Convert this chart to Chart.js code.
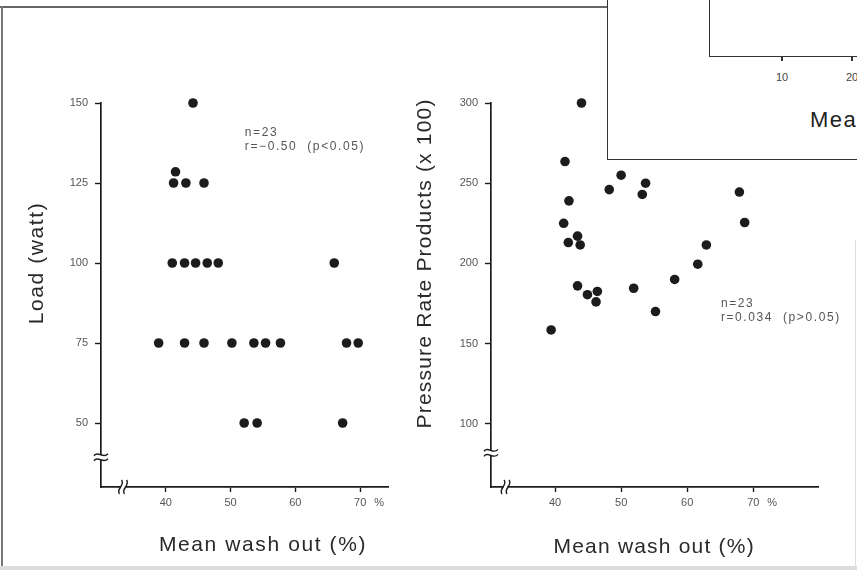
<!DOCTYPE html>
<html>
<head>
<meta charset="utf-8">
<script src="https://cdn.jsdelivr.net/npm/chart.js@4.4.1/dist/chart.umd.min.js"></script>
<style>
    html, body { margin: 0; padding: 0; }
    body { width: 857px; height: 570px; background: #fff; position: relative; overflow: hidden; font-family: "Liberation Sans", Arial, sans-serif; }
    .abs { position: absolute; }
    #left-wrap { left: 0; top: 0; width: 410px; height: 570px; }
    #right-wrap { left: 400px; top: 0; width: 457px; height: 570px; }
    .line { position: absolute; background: #444; }
    .inset-label { position: absolute; font-size: 11px; color: #444; transform: translateX(-50%); }
</style>
</head>
<body>
<!-- scan frame -->
<div class="line" style="left:0;top:6px;width:608px;height:2px;background:#666"></div>
<div class="line" style="left:1px;top:6px;width:2px;height:564px;background:#777"></div>
<div class="line" style="left:0;top:566px;width:857px;height:4px;background:#ddd"></div>
<div class="line" style="left:855px;top:240px;width:1px;height:330px;background:#ddd"></div>

<div id="left-wrap" class="abs"><canvas id="load-chart"></canvas></div>
<div id="right-wrap" class="abs"><canvas id="prp-chart"></canvas></div>

<!-- overlapping corner of the next figure -->
<div class="abs" style="left:607px;top:-2px;width:252px;height:161px;background:#fff;border-left:1.5px solid #333;border-bottom:1.5px solid #333"></div>
<div class="abs" style="left:709px;top:-2px;width:150px;height:58px;border-left:1.5px solid #333;border-bottom:1.5px solid #333"></div>
<div class="line" style="left:781px;top:57px;width:1.5px;height:4px;background:#333"></div>
<div class="line" style="left:851px;top:57px;width:1.5px;height:4px;background:#333"></div>
<div class="inset-label" style="left:782px;top:71px">10</div>
<div class="inset-label" style="left:852px;top:71px">20</div>
<div class="abs" style="left:810px;top:107px;font-size:22px;color:#222;white-space:nowrap;letter-spacing:1.5px">Mean wash out (%)</div>

<script>
// Load (watt) vs mean wash out
const loadWashout = [44.2, 41.5, 41.2, 43.1, 45.9, 41.0, 42.9, 44.6, 46.4, 48.1, 66.0,
    38.9, 42.9, 45.9, 50.2, 53.6, 55.4, 57.7, 67.9, 69.7, 52.1, 54.1, 67.3];
const loadWatt = [150, 128.5, 125, 125, 125, 100, 100, 100, 100, 100, 100,
    75, 75, 75, 75, 75, 75, 75, 75, 75, 50, 50, 50];

// Pressure rate products (x100) vs mean wash out
const prpWashout = [44.0, 41.5, 42.1, 41.3, 42.0, 43.4, 43.8, 43.4, 44.9, 46.4, 46.2, 39.4,
    48.2, 50.0, 53.2, 53.7, 51.9, 55.2, 58.1, 61.6, 62.9, 67.9, 68.7];
const prpValues = [300, 263.5, 239, 225, 213, 217, 211.5, 186, 180.5, 182.5, 176, 158.5,
    246, 255, 243, 250, 184.5, 170, 190, 199.5, 211.5, 244.5, 225.5];

const xTicks = [40, 50, 60, 70];
const loadTicks = [50, 75, 100, 125, 150];
const prpTicks = [100, 150, 200, 250, 300];

const inkColor = '#1c1c1c';
const textGray = '#555';

// Titles, axis breaks, "%" unit and the n / r notes
const scanDecor = {
    id: 'scanDecor',
    afterDraw(chart, args, opts) {
        const ctx = chart.ctx;
        const xs = chart.scales.x;
        const ys = chart.scales.y;
        const area = chart.chartArea;
        ctx.save();

        // axis breaks
        ctx.strokeStyle = inkColor;
        ctx.lineWidth = 1.4;
        const by = ys.getPixelForValue(opts.yBreak);
        ctx.fillStyle = '#fff';
        ctx.fillRect(area.left - 3, by - 2, 6, 4);
        [-2.5, 2.5].forEach(d => {
            ctx.beginPath();
            ctx.moveTo(area.left - 7, by + d + 1);
            ctx.bezierCurveTo(area.left - 3, by + d - 5, area.left + 2, by + d + 5, area.left + 7, by + d - 1);
            ctx.stroke();
        });
        const bx = xs.getPixelForValue(opts.xBreak);
        ctx.fillRect(bx - 2, area.bottom - 3, 4, 6);
        [-2.5, 2.5].forEach(d => {
            ctx.beginPath();
            ctx.moveTo(bx + d - 1, area.bottom + 7);
            ctx.bezierCurveTo(bx + d - 5, area.bottom + 2, bx + d + 5, area.bottom - 2, bx + d + 1, area.bottom - 7);
            ctx.stroke();
        });

        // "%" after the last x tick
        ctx.fillStyle = textGray;
        ctx.font = '11px "Liberation Sans", Arial, sans-serif';
        ctx.textAlign = 'center';
        ctx.textBaseline = 'middle';
        const lastX = xs.getPixelForValue(xTicks[xTicks.length - 1]);
        ctx.fillText('%', lastX + 19, area.bottom + 16);

        // notes
        ctx.font = '12px "Liberation Sans", Arial, sans-serif';
        ctx.letterSpacing = '1.6px';
        ctx.textAlign = 'left';
        opts.notes.forEach((t, i) => {
            ctx.fillText(t, xs.getPixelForValue(opts.noteAt[0]), ys.getPixelForValue(opts.noteAt[1]) + i * 14);
        });

        // axis titles, centred on the tick range
        ctx.fillStyle = '#2a2a2a';
        ctx.font = '21px "Liberation Sans", Arial, sans-serif';
        ctx.letterSpacing = opts.spacing;
        ctx.textAlign = 'center';
        const xMid = (xs.getPixelForValue(xTicks[0]) + lastX) / 2;
        ctx.fillText(opts.xTitle, xMid, area.bottom + opts.xTitleGap);
        const yMid = (ys.getPixelForValue(opts.yTicks[0]) + ys.getPixelForValue(opts.yTicks[opts.yTicks.length - 1])) / 2;
        ctx.translate(area.left - opts.yTitleGap, yMid);
        ctx.rotate(-Math.PI / 2);
        ctx.fillText(opts.yTitle, 0, 0);
        ctx.restore();
    }
};

function makeChart(canvasId, xs, ys, cfg) {
    const ctx = document.getElementById(canvasId).getContext('2d');
    return new Chart(ctx, {
        type: 'scatter',
        data: {
            datasets: [{
                data: xs.map((x, i) => ({ x: x, y: ys[i] })),
                backgroundColor: inkColor,
                borderWidth: 0,
                pointRadius: 4.8,
                pointHoverRadius: 4.8,
                clip: false
            }]
        },
        options: {
            responsive: true,
            maintainAspectRatio: false,
            animation: false,
            layout: { padding: { left: 0, right: cfg.padRight, top: 103, bottom: 0 } },
            plugins: {
                legend: { display: false },
                tooltip: { enabled: false },
                scanDecor: cfg.decor
            },
            scales: {
                x: {
                    type: 'linear',
                    min: cfg.xMin,
                    max: cfg.xMax,
                    afterBuildTicks: s => { s.ticks = xTicks.map(v => ({ value: v })); },
                    afterFit: s => { s.height = 83; },
                    border: { display: true, color: inkColor, width: 1.7 },
                    grid: { drawOnChartArea: false, drawTicks: true, tickLength: 5, color: inkColor, tickWidth: 1.4 },
                    ticks: {
                        padding: 4,
                        color: textGray,
                        maxRotation: 0,
                        font: { family: '"Liberation Sans", Arial, sans-serif', size: 11 }
                    }
                },
                y: {
                    type: 'linear',
                    min: cfg.yMin,
                    max: cfg.yMax,
                    afterBuildTicks: s => { s.ticks = cfg.yTicks.map(v => ({ value: v })); },
                    afterFit: s => { s.width = cfg.yWidth; },
                    border: { display: true, color: inkColor, width: 1.7 },
                    grid: { drawOnChartArea: false, drawTicks: true, tickLength: 6, color: inkColor, tickWidth: 1.4 },
                    ticks: {
                        padding: 7,
                        color: textGray,
                        font: { family: '"Liberation Sans", Arial, sans-serif', size: 11 }
                    }
                }
            }
        },
        plugins: [scanDecor]
    });
}

document.addEventListener('DOMContentLoaded', () => {
    makeChart('load-chart', loadWashout, loadWatt, {
        xMin: 30, xMax: 74.3, yMin: 30, yMax: 150,
        yTicks: loadTicks, yWidth: 101, padRight: 22,
        decor: {
            xTitle: 'Mean wash out (%)', yTitle: 'Load (watt)',
            yTicks: loadTicks, spacing: '1.6px',
            xTitleGap: 58, yTitleGap: 64,
            yBreak: 39.3, xBreak: 33.4,
            notes: ['n=23', 'r=\u22120.50  (p<0.05)'], noteAt: [52.2, 140.6]
        }
    });
    makeChart('prp-chart', prpWashout, prpValues, {
        xMin: 30.3, xMax: 79.8, yMin: 60.6, yMax: 300,
        yTicks: prpTicks, yWidth: 91, padRight: 39,
        decor: {
            xTitle: 'Mean wash out (%)', yTitle: 'Pressure Rate Products (x 100)',
            yTicks: prpTicks, spacing: '1.2px',
            xTitleGap: 60, yTitleGap: 66,
            yBreak: 81.9, xBreak: 32.5,
            notes: ['n=23', 'r=0.034  (p>0.05)'], noteAt: [65.1, 175]
        }
    });
});
</script>
</body>
</html>
